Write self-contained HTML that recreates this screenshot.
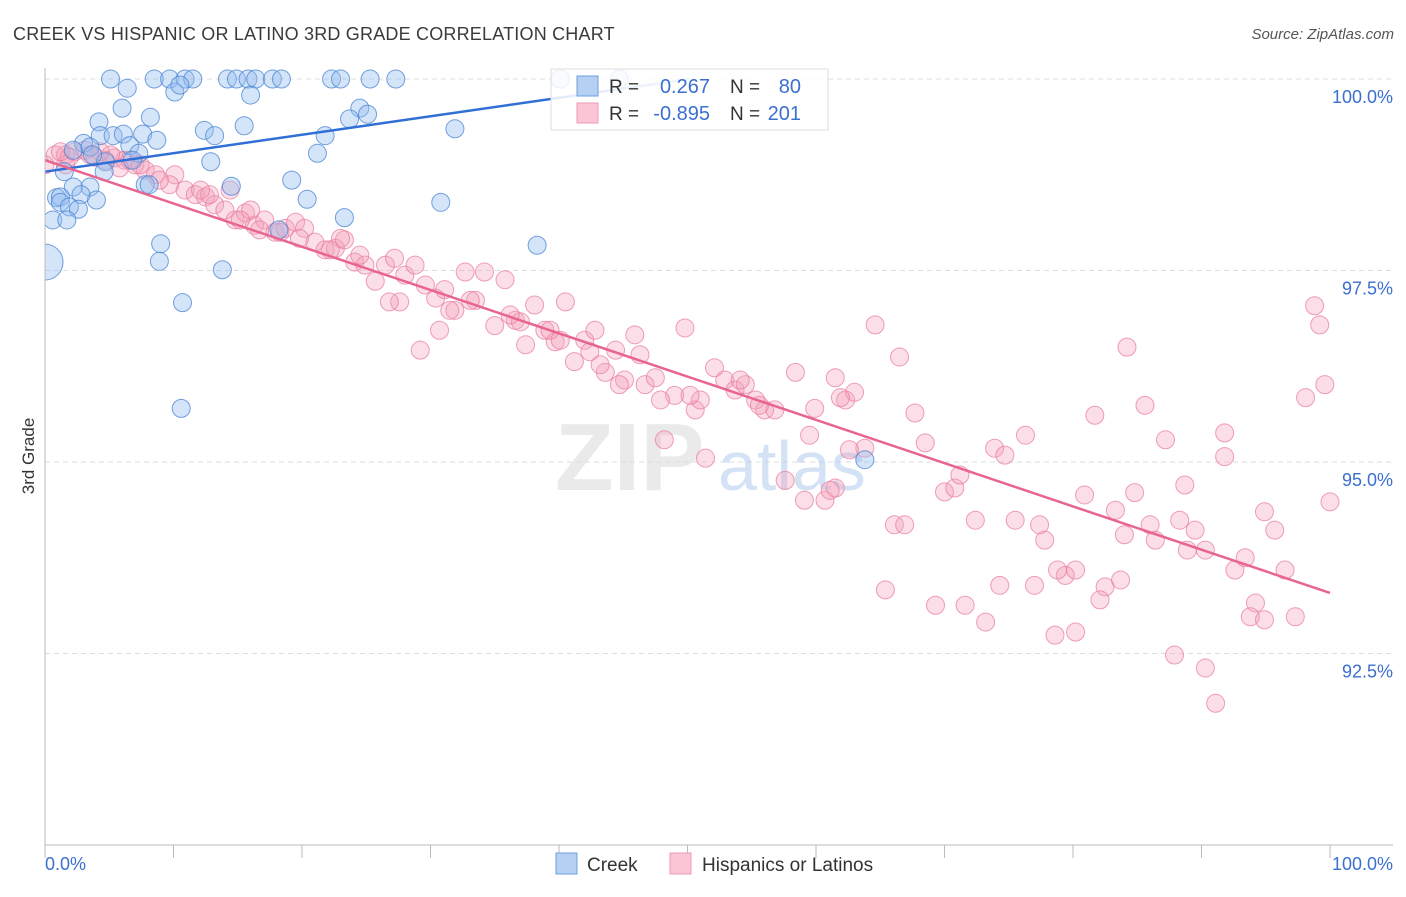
<!DOCTYPE html>
<html><head><meta charset="utf-8"><style>
body{margin:0;background:#fff;font-family:"Liberation Sans",sans-serif;}
svg text{font-family:"Liberation Sans",sans-serif;}
</style></head><body>
<svg id="chart" width="1406" height="892" viewBox="0 0 1406 892" xmlns="http://www.w3.org/2000/svg">
<defs>
<clipPath id="plotclip"><rect x="45" y="40" width="1361" height="805"/></clipPath>
<linearGradient id="bluefade" gradientUnits="userSpaceOnUse" x1="45" y1="0" x2="690" y2="0">
<stop offset="0" stop-color="#2f6fd6"/><stop offset="0.78" stop-color="#2f6fd6"/><stop offset="1" stop-color="#a9c6ee"/>
</linearGradient>
</defs>
<text x="13" y="40" font-size="18" fill="#3a3a3a" letter-spacing="0.2">CREEK VS HISPANIC OR LATINO 3RD GRADE CORRELATION CHART</text>
<text x="1394" y="39" font-size="15" fill="#555" font-style="italic" text-anchor="end">Source: ZipAtlas.com</text>
<text transform="translate(34,456) rotate(-90)" font-size="17" fill="#333" text-anchor="middle">3rd Grade</text>
<g id="grid"></g>
<g>
<text x="555" y="490" font-size="96" fill="#ddd" font-family="Liberation Serif" font-weight="bold" opacity="0.6">ZIP</text>
<text x="718" y="490" font-size="70" fill="#b9cff0" opacity="0.6">atlas</text>
</g>
<g id="pts" clip-path="url(#plotclip)"></g>
<g id="lines"></g>
<g id="axes"></g>
<g>
<rect x="551" y="69" width="277" height="61" fill="#fff" fill-opacity="0.85" stroke="#ddd"/>
<rect x="577" y="76" width="21" height="20" fill="#b5d0f2" stroke="#6f9ee0"/>
<rect x="577" y="103" width="21" height="20" fill="#fbc5d5" stroke="#ee9ab4"/>
<text x="609" y="93" font-size="19" fill="#333">R =</text>
<text x="710" y="93" font-size="20" fill="#3b6fd0" text-anchor="end">0.267</text>
<text x="730" y="93" font-size="19" fill="#333">N =</text>
<text x="801" y="93" font-size="20" fill="#3b6fd0" text-anchor="end">80</text>
<text x="609" y="120" font-size="19" fill="#333">R =</text>
<text x="710" y="120" font-size="20" fill="#3b6fd0" text-anchor="end">-0.895</text>
<text x="730" y="120" font-size="19" fill="#333">N =</text>
<text x="801" y="120" font-size="20" fill="#3b6fd0" text-anchor="end">201</text>
</g>
<g>
<rect x="556" y="853" width="21" height="21" fill="#b5d0f2" stroke="#6f9ee0"/>
<text x="587" y="871" font-size="19" fill="#333">Creek</text>
<rect x="670" y="853" width="21" height="21" fill="#fbc5d5" stroke="#ee9ab4"/>
<text x="702" y="871" font-size="19" fill="#333">Hispanics or Latinos</text>
</g>
</svg>
<script>
const yTicks=[100,97.5,95,92.5];
const yTickLabels=["100.0%","97.5%","95.0%","92.5%"];
const xTickLabels=["0.0%","100.0%"];
const creekX=[5.1,8.5,9.7,10.9,11.5,14.2,14.9,15.8,16.4,17.7,18.4,22.3,23.0,25.3,27.3,40.1,44.7,6.4,10.1,10.5,16.0,6.0,8.2,24.5,25.1,23.7,4.2,4.3,3.0,2.2,5.3,6.1,7.6,8.7,12.4,13.2,15.5,31.9,21.8,21.2,6.6,7.3,3.5,4.7,3.7,6.8,12.9,4.6,1.5,19.2,14.5,7.8,8.1,3.5,2.2,0.9,1.2,1.2,4.0,2.8,1.9,2.6,0.6,1.7,20.4,30.8,23.3,18.2,9.0,38.3,8.9,13.8,10.7,10.6,63.8];
const creekY=[100,100,100,100,100,100,100,100,100,100,100,100,100,100,100,100,100,99.88,99.83,99.92,99.79,99.62,99.50,99.62,99.54,99.48,99.44,99.26,99.16,99.07,99.26,99.28,99.28,99.20,99.33,99.26,99.39,99.35,99.26,99.03,99.13,99.03,99.11,98.92,99.01,98.94,98.92,98.79,98.79,98.68,98.60,98.62,98.62,98.59,98.59,98.45,98.46,98.39,98.42,98.49,98.33,98.30,98.16,98.16,98.43,98.39,98.19,98.03,97.85,97.83,97.62,97.51,97.08,95.70,95.03];
const hispX=[0.8,1.6,2.3,3.1,3.9,4.7,5.4,6.2,7.0,7.8,8.6,10.1,1.6,10.9,11.7,12.5,13.2,14.0,14.8,15.6,16.3,17.1,17.9,18.7,19.5,20.2,21.0,21.8,22.6,23.3,24.1,24.9,25.7,26.5,27.2,28.0,28.8,29.6,30.4,31.1,31.9,32.7,33.5,34.2,35.0,35.8,36.6,37.4,38.1,38.9,39.7,40.5,41.2,42.0,42.8,43.6,44.4,45.1,45.9,46.7,47.5,48.2,49.0,49.8,50.6,51.4,52.1,52.9,53.7,54.5,55.3,56.0,56.8,57.6,58.4,59.1,59.9,60.7,61.5,62.3,63.0,63.8,64.6,65.4,66.1,66.9,67.7,68.5,69.3,70.0,70.8,71.6,72.4,73.2,73.9,74.7,75.5,76.3,77.0,77.8,78.6,79.4,80.2,80.9,81.7,82.5,83.3,84.0,84.8,85.6,86.4,87.2,87.9,88.7,89.5,90.3,91.1,91.8,92.6,93.4,94.2,94.9,95.7,96.5,97.3,98.1,98.8,99.2,99.6,100,91.8,90.3,88.9,84.2,74.3,77.4,80.2,78.8,83.7,82.1,93.8,94.9,88.3,86.0,71.2,66.5,61.5,61.9,62.6,61.1,59.5,55.6,54.1,51.0,50.2,47.9,46.3,44.7,43.2,42.4,40.1,39.3,37.0,36.2,33.1,31.5,30.7,29.2,27.6,26.8,24.5,23.0,22.2,19.8,18.3,16.7,16.0,15.2,14.4,12.8,12.1,9.7,8.9,7.4,6.6,5.8,5.1,4.3,3.5,1.9,1.2,0];
const hispY=[99.01,99.01,99.05,99.07,98.98,98.94,98.97,98.94,98.88,98.81,98.75,98.75,98.88,98.55,98.49,98.46,98.36,98.29,98.16,98.25,98.09,98.16,98.00,98.05,98.13,98.05,97.87,97.77,97.79,97.90,97.61,97.57,97.36,97.57,97.66,97.44,97.57,97.31,97.14,97.25,96.98,97.48,97.11,97.48,96.78,97.38,96.85,96.53,97.05,96.72,96.57,97.09,96.31,96.59,96.72,96.17,96.46,96.07,96.66,96.01,96.10,95.29,95.87,96.75,95.68,95.05,96.23,96.07,95.94,96.01,95.81,95.68,95.68,94.76,96.17,94.50,95.70,94.50,94.66,95.81,95.91,95.18,96.79,93.33,94.18,94.18,95.64,95.25,93.13,94.61,94.66,93.13,94.24,92.91,95.18,95.09,94.24,95.35,93.39,93.98,92.74,93.52,93.59,94.57,95.61,93.37,94.37,94.05,94.60,95.74,93.98,95.29,92.48,94.70,94.11,92.31,91.85,95.38,93.59,93.75,93.16,94.35,94.11,93.59,92.98,95.84,97.04,96.79,96.01,94.48,95.07,93.85,93.85,96.50,93.39,94.18,92.78,93.59,93.46,93.20,92.98,92.94,94.24,94.18,94.83,96.37,96.10,95.84,95.16,94.63,95.35,95.74,96.07,95.81,95.87,95.81,96.40,96.01,96.27,96.44,96.59,96.72,96.83,96.92,97.11,96.98,96.72,96.46,97.09,97.09,97.70,97.92,97.77,97.92,98.00,98.03,98.29,98.16,98.55,98.49,98.55,98.62,98.68,98.88,98.94,98.84,99.01,99.05,99.01,98.98,99.05,98.88];
const creekTrend=[[0,98.79],[50.2,100.0]];
const hispTrend=[[0,98.94],[100,93.29]];

const NS="http://www.w3.org/2000/svg";
const X0=45,X1=1330,YTOP=79,PXPER=76.6;
function sx(v){return X0+(X1-X0)*v/100;}
function sy(v){return YTOP+(100-v)*PXPER;}
function mk(tag,attrs,parent){const e=document.createElementNS(NS,tag);for(const k in attrs)e.setAttribute(k,attrs[k]);parent.appendChild(e);return e;}

const grid=document.getElementById('grid');
yTicks.forEach((t,i)=>{
  const l=mk('line',{x1:45,x2:1393,y1:sy(t),y2:sy(t),stroke:'#ddd','stroke-dasharray':'5,4'},grid);
  
  
  const tx=mk('text',{x:1393,y:sy(t)+24,'font-size':18,fill:'#3b6fd0','text-anchor':'end'},grid);
  tx.textContent=yTickLabels[i];
  
  
});

const ax=document.getElementById('axes');
const yl=mk('line',{x1:45,x2:45,y1:68,y2:845,stroke:'#bbb'},ax);


const xl=mk('line',{x1:45,x2:1393,y1:845,y2:845,stroke:'#bbb'},ax);


for(let i=0;i<=10;i++){
  const t=mk('line',{x1:sx(i*10),x2:sx(i*10),y1:845,y2:858,stroke:'#bbb'},ax);
  
  
}
const xt0=mk('text',{x:45,y:870,'font-size':18,fill:'#3b6fd0'},ax);
xt0.textContent=xTickLabels[0];


const xt1=mk('text',{x:1393,y:870,'font-size':18,fill:'#3b6fd0','text-anchor':'end'},ax);
xt1.textContent=xTickLabels[1];



const pts=document.getElementById('pts');
hispX.forEach((x,i)=>{
  const c=mk('circle',{cx:sx(x),cy:sy(hispY[i]),r:9,fill:'rgba(244,160,185,0.35)',stroke:'rgba(232,120,155,0.7)','stroke-width':1},pts);
  
  
});
creekX.forEach((x,i)=>{
  const c=mk('circle',{cx:sx(x),cy:sy(creekY[i]),r:9,fill:'rgba(150,190,240,0.4)',stroke:'rgba(70,130,210,0.75)','stroke-width':1},pts);
  
  
});
const big=mk('circle',{cx:sx(0),cy:sy(97.61),r:18,fill:'rgba(150,190,240,0.4)',stroke:'rgba(70,130,210,0.75)'},pts);



const lines=document.getElementById('lines');
const bl=mk('line',{x1:sx(creekTrend[0][0]),y1:sy(creekTrend[0][1]),x2:sx(creekTrend[1][0]),y2:sy(creekTrend[1][1]),stroke:'url(#bluefade)','stroke-width':2.5},lines);


const pl=mk('line',{x1:sx(hispTrend[0][0]),y1:sy(hispTrend[0][1]),x2:sx(hispTrend[1][0]),y2:sy(hispTrend[1][1]),stroke:'#e8658f','stroke-width':2.5},lines);


</script>
</body></html>
